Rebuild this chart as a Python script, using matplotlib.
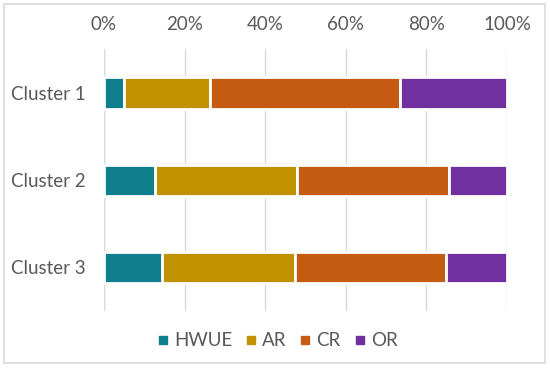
import matplotlib.pyplot as plt
from matplotlib.lines import Line2D
from matplotlib.patches import Rectangle
import numpy as np

plt.rcParams['font.family'] = ['Lato', 'DejaVu Sans']

clusters = ['Cluster 1', 'Cluster 2', 'Cluster 3']
series = ['HWUE', 'AR', 'CR', 'OR']
hwue = [5.0, 12.6, 14.4]
ar = [21.3, 35.2, 33.1]
cr = [47.2, 37.8, 37.4]
orr = [26.5, 14.4, 15.1]
colors = ['#0E7D8C', '#C09100', '#C55A11', '#7030A0']
tick_vals = [0, 20, 40, 60, 80, 100]

fig = plt.figure(figsize=(5.5, 3.69), dpi=100)
ax = fig.add_axes([0.189, 0.157, 0.733, 0.709])

y = np.arange(len(clusters))
left = np.zeros(len(clusters))
for vals, name, c in zip([hwue, ar, cr, orr], series, colors):
    ax.barh(y, vals, left=left, height=0.36, color=c, edgecolor='white',
            linewidth=2, label=name, zorder=3)
    left += np.array(vals)

ax.set_xlim(0, 100)
ax.set_ylim(2.5, -0.5)
ax.set_yticks(y)
ax.set_yticklabels(clusters)
ax.set_xticks(tick_vals)
ax.set_xticklabels([f'{v}%' for v in tick_vals])
ax.xaxis.tick_top()
ax.tick_params(axis='both', length=0, labelsize=13.5, labelcolor='#595959')
ax.tick_params(axis='x', pad=12)
ax.tick_params(axis='y', pad=13)
ax.grid(axis='x', color='#d9d9d9', linewidth=1, zorder=0)
for s in ax.spines.values():
    s.set_visible(False)
ax.axvline(0, color='#d9d9d9', linewidth=1, zorder=1)

handles = [Line2D([], [], marker='s', linestyle='none', markersize=6,
                  color=c) for c in colors]
fig.legend(handles, series, loc='center', bbox_to_anchor=(0.505, 0.076), ncol=4,
           frameon=False, fontsize=13.5, labelcolor='#595959',
           handlelength=0.5, handletextpad=0.35, columnspacing=0.75)

# outer frame
fig.patches.append(Rectangle((4 / 550, 1 - 363 / 369), 541 / 550, 359 / 369,
                             transform=fig.transFigure, fill=False,
                             edgecolor='#d9d9d9', linewidth=1.2))

fig.savefig('out.png', dpi=100)
